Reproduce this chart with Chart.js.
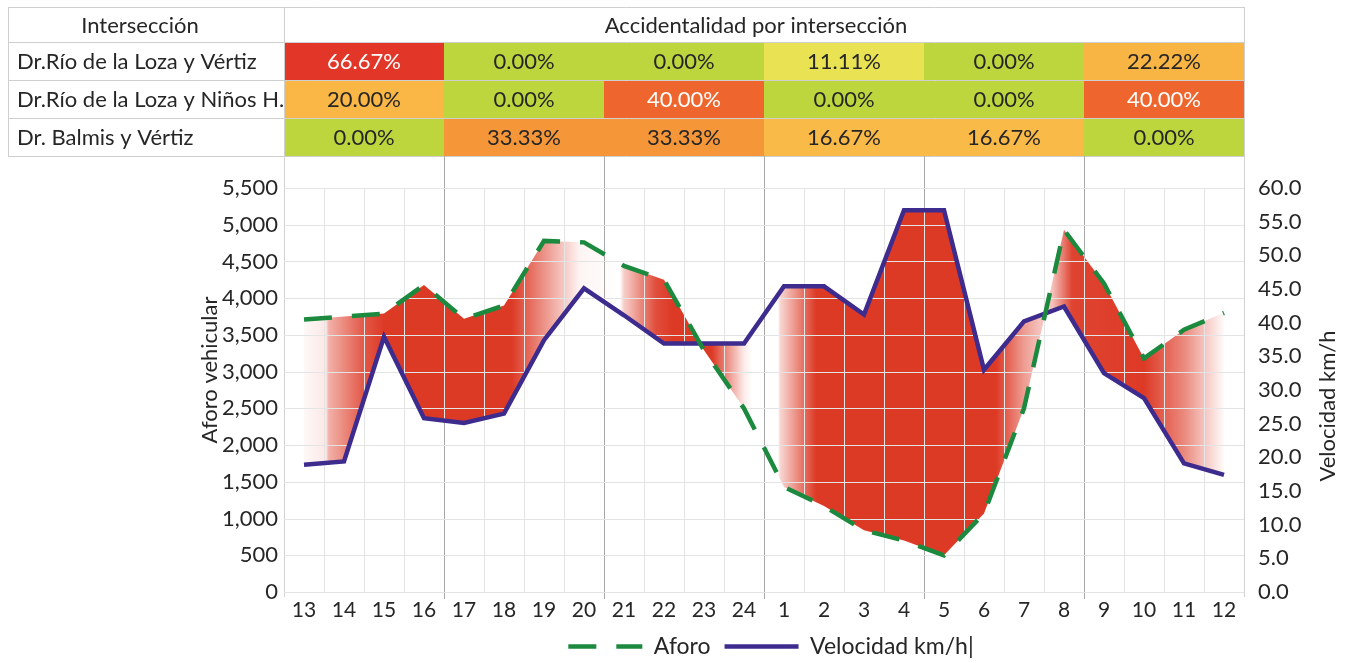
<!DOCTYPE html>
<html lang="es">
<head>
<meta charset="utf-8">
<title>Aforo vehicular y velocidad</title>
<script src="https://cdn.jsdelivr.net/npm/chart.js@4.4.1/dist/chart.umd.min.js"></script>
<style>
  html, body { margin: 0; padding: 0; background: #ffffff; }
  .chart-box { position: relative; width: 1347px; height: 663px; }
</style>
</head>
<body>
<div class="chart-box"><canvas id="js-chart-aforo"></canvas></div>
<script>
// Hours of the day (x axis)
const horas = ['13', '14', '15', '16', '17', '18', '19', '20', '21', '22', '23', '24',
               '1', '2', '3', '4', '5', '6', '7', '8', '9', '10', '11', '12'];

// Vehicle count per hour (left axis)
const aforo = [3710, 3750, 3790, 4180, 3720, 3900, 4780, 4760, 4440, 4250, 3290, 2500,
               1430, 1170, 840, 700, 500, 1070, 2500, 4930, 4200, 3180, 3570, 3800];

// Speed in km/h per hour (right axis)
const velocidad = [18.9, 19.4, 37.9, 25.8, 25.1, 26.5, 37.4, 45.1, 41.1, 36.9, 36.9, 36.9,
                   45.4, 45.4, 41.2, 56.7, 56.7, 33.0, 40.2, 42.4, 32.5, 28.8, 19.1, 17.4];

// Axis ranges
const aforoMax = 5500, aforoPaso = 500;
const velMax = 60, velPaso = 5;

// Accident table, one value per 4 hour block
const tablaCabecera = 'Intersección';
const tablaTitulo = 'Accidentalidad por intersección';
const intersecciones = ['Dr.Río de la Loza y Vértiz', 'Dr.Río de la Loza y Niños H.', 'Dr. Balmis y Vértiz'];
const accRioVertiz = [66.67, 0.00, 0.00, 11.11, 0.00, 22.22];
const accRioNinos = [20.00, 0.00, 40.00, 0.00, 0.00, 40.00];
const accBalmisVertiz = [0.00, 33.33, 33.33, 16.67, 16.67, 0.00];

// Styles
const FONT = "Lato, 'Open Sans', sans-serif";
const TEXT = '#262626';
const GREEN = '#1b8a3e';
const PURPLE = '#3d2b8e';
const RED = [221, 58, 38];
const GRID = '#e4e4e4';
const COLUMN_LINE = '#a8a8a8';
const AXIS_LINE = '#d2d2d2';

// fill opacity along x: [category position, opacity]
const fadeStops = [
  [0, 0.03], [0.55, 0.12], [0.62, 0.4], [1.5, 0.85], [2, 1],
  [5.2, 1], [6, 0.55], [6.9, 0.05], [7.9, 0], [8, 0.25], [8.8, 0.9], [9.2, 1],
  [10.2, 1], [11, 0.1], [11.2, 0], [11.85, 0], [11.9, 0.2], [12.8, 1],
  [17.3, 1], [18, 0.5], [18.4, 0.3], [18.7, 0.3], [19.2, 0.95], [21, 1],
  [22, 0.6], [22.5, 0.3], [23, 0.02]
];

// colour scale of the table cells
const scaleStops = [
  [0, [190, 214, 62]], [11.11, [233, 227, 84]], [15, [250, 188, 72]], [25, [249, 178, 66]],
  [33.33, [245, 150, 57]], [40, [238, 101, 46]], [66.67, [226, 55, 40]]
];

const table = { top: 7, left: 8, headH: 35, rowH: 38 };

function interp(stops, v) {
  if (v <= stops[0][0]) return stops[0][1];
  for (let i = 1; i < stops.length; i++) {
    const [p1, a1] = stops[i];
    if (v <= p1) {
      const [p0, a0] = stops[i - 1];
      const t = (v - p0) / (p1 - p0);
      if (Array.isArray(a0)) return a0.map((c, j) => Math.round(c + (a1[j] - c) * t));
      return a0 + (a1 - a0) * t;
    }
  }
  return stops[stops.length - 1][1];
}

function cellColor(v) {
  return `rgb(${interp(scaleStops, v).join(',')})`;
}

function fillGradient(chart) {
  const {ctx, chartArea: a, scales} = chart;
  if (!a || !scales.x) return `rgba(${RED.join(',')},0.8)`;
  const x = scales.x;
  const g = ctx.createLinearGradient(a.left, 0, a.right, 0);
  fadeStops.forEach(([pos, alpha]) => {
    const off = (x.getPixelForValue(pos) - a.left) / (a.right - a.left);
    g.addColorStop(Math.min(1, Math.max(0, off)), `rgba(${RED.join(',')},${alpha})`);
  });
  return g;
}

// Table on top and column lines running down to the axis
const tablePlugin = {
  id: 'tablaAccidentes',
  beforeDraw(chart) {
    const {ctx, chartArea: area, scales: {x}} = chart;
    const edge = k => Math.round(x.getPixelForValue(k - 0.5));
    const rows = [accRioVertiz, accRioNinos, accBalmisVertiz];
    const top = table.top, bodyTop = top + table.headH;
    const bottom = bodyTop + rows.length * table.rowH;
    const left = table.left, split = Math.round(area.left), right = Math.round(area.right);

    ctx.save();
    ctx.font = `22px ${FONT}`;
    ctx.textBaseline = 'middle';

    rows.forEach((vals, r) => {
      const y0 = bodyTop + r * table.rowH;
      vals.forEach((v, c) => {
        const x0 = edge(c * 4), x1 = edge(c * 4 + 4);
        ctx.fillStyle = cellColor(v);
        ctx.fillRect(x0, y0 + 1, x1 - x0, table.rowH - 1);
        ctx.fillStyle = v >= 40 ? '#ffffff' : TEXT;
        ctx.textAlign = 'center';
        ctx.fillText(v.toFixed(2) + '%', (x0 + x1) / 2, y0 + table.rowH / 2 + 1);
      });
      ctx.fillStyle = TEXT;
      ctx.textAlign = 'left';
      ctx.fillText(intersecciones[r], left + 9, y0 + table.rowH / 2 + 1);
    });

    ctx.fillStyle = TEXT;
    ctx.textAlign = 'center';
    ctx.fillText(tablaCabecera, (left + split) / 2 - 6, top + table.headH / 2 + 1);
    ctx.fillText(tablaTitulo, (split + right) / 2 - 8, top + table.headH / 2 + 1);

    // table borders
    ctx.lineWidth = 1;
    ctx.strokeStyle = '#cfcfcf';
    ctx.beginPath();
    for (let r = 0; r <= rows.length + 1; r++) {
      const y = r === 0 ? top : bodyTop + (r - 1) * table.rowH;
      ctx.moveTo(left, y + 0.5);
      ctx.lineTo(right + 1, y + 0.5);
    }
    ctx.moveTo(left + 0.5, top);
    ctx.lineTo(left + 0.5, bottom);
    ctx.moveTo(split + 0.5, top);
    ctx.lineTo(split + 0.5, bottom);
    ctx.moveTo(right + 0.5, top);
    ctx.lineTo(right + 0.5, bottom);
    ctx.stroke();

    // axis lines below the table
    ctx.strokeStyle = AXIS_LINE;
    ctx.beginPath();
    ctx.moveTo(split + 0.5, bottom);
    ctx.lineTo(split + 0.5, area.bottom + 5);
    ctx.moveTo(right + 0.5, bottom);
    ctx.lineTo(right + 0.5, area.bottom + 5);
    ctx.stroke();

    // block lines every 4 hours
    ctx.strokeStyle = COLUMN_LINE;
    ctx.beginPath();
    for (let k = 4; k < horas.length; k += 4) {
      const px = edge(k) + 0.5;
      ctx.moveTo(px, bottom);
      ctx.lineTo(px, area.bottom + 7);
    }
    ctx.stroke();
    ctx.restore();
  }
};

// Light grid drawn over the fill, under the lines
const gridPlugin = {
  id: 'gridOverFill',
  beforeDatasetsDraw(chart) {
    const {ctx, chartArea: a, scales: {x, y}} = chart;
    const edge = k => Math.round(x.getPixelForValue(k - 0.5)) + 0.5;
    ctx.save();
    ctx.lineWidth = 1;
    ctx.strokeStyle = GRID;
    ctx.beginPath();
    y.ticks.forEach((t, i) => {
      const py = Math.round(y.getPixelForTick(i)) + 0.5;
      ctx.moveTo(a.left, py);
      ctx.lineTo(a.right, py);
    });
    for (let k = 1; k < horas.length; k++) {
      if (k % 4 === 0) continue;
      ctx.moveTo(edge(k), a.top);
      ctx.lineTo(edge(k), a.bottom);
    }
    ctx.stroke();

    // block lines inside the red band show light as well
    const p0 = chart.getDatasetMeta(0).data;
    const p1 = chart.getDatasetMeta(1).data;
    ctx.beginPath();
    p0.forEach((p, i) => (i ? ctx.lineTo(p.x, p.y) : ctx.moveTo(p.x, p.y)));
    for (let i = p1.length - 1; i >= 0; i--) ctx.lineTo(p1[i].x, p1[i].y);
    ctx.closePath();
    ctx.clip();
    ctx.beginPath();
    for (let k = 4; k < horas.length; k += 4) {
      if (interp(fadeStops, k - 0.5) < 0.5) continue;
      ctx.moveTo(edge(k), a.top);
      ctx.lineTo(edge(k), a.bottom);
    }
    ctx.stroke();
    ctx.restore();
  }
};

// Axis titles, both reading bottom to top
const titlesPlugin = {
  id: 'axisTitles',
  afterDraw(chart) {
    const {ctx, chartArea: a} = chart;
    const mid = (a.top + a.bottom) / 2;
    ctx.save();
    ctx.font = `22px ${FONT}`;
    ctx.fillStyle = TEXT;
    ctx.textAlign = 'center';
    ctx.textBaseline = 'middle';
    [['Aforo vehicular', a.left - 74, mid - 20], ['Velocidad km/h', a.right + 84, mid + 16]].forEach(([txt, tx, ty]) => {
      ctx.save();
      ctx.translate(tx, ty);
      ctx.rotate(-Math.PI / 2);
      ctx.fillText(txt, 0, 0);
      ctx.restore();
    });
    ctx.restore();
  }
};

Chart.defaults.font.family = FONT;
Chart.defaults.font.size = 21;
Chart.defaults.color = TEXT;

new Chart(document.getElementById('js-chart-aforo'), {
  type: 'line',
  data: {
    labels: horas,
    datasets: [
      {
        label: 'Aforo',
        data: aforo,
        yAxisID: 'y',
        borderColor: GREEN,
        borderWidth: 4.5,
        borderDash: [28, 20],
        borderCapStyle: 'butt',
        borderJoinStyle: 'miter',
        pointRadius: 0,
        tension: 0,
        fill: '+1',
        backgroundColor: ctx => fillGradient(ctx.chart)
      },
      {
        label: 'Velocidad km/h|',
        data: velocidad,
        yAxisID: 'y1',
        borderColor: PURPLE,
        backgroundColor: PURPLE,
        borderWidth: 4.5,
        borderJoinStyle: 'miter',
        pointRadius: 0,
        tension: 0,
        fill: false
      }
    ]
  },
  options: {
    responsive: true,
    maintainAspectRatio: false,
    animation: false,
    layout: { padding: { left: 195, top: 188, right: 0, bottom: -5 } },
    plugins: {
      filler: { drawTime: 'beforeDatasetsDraw' },
      tooltip: { enabled: false },
      legend: {
        position: 'bottom',
        labels: {
          usePointStyle: true,
          pointStyle: 'line',
          pointStyleWidth: 74,
          padding: 14,
          color: TEXT,
          font: { size: 23 },
          // point styles carry no dash, take it from the dataset
          generateLabels: chart => Chart.defaults.plugins.legend.labels.generateLabels(chart).map((item, i) => {
            item.lineDash = chart.data.datasets[i].borderDash || [];
            item.lineCap = 'butt';
            return item;
          })
        }
      }
    },
    scales: {
      x: {
        offset: true,
        grid: { display: false, drawTicks: false },
        border: { display: false },
        ticks: { padding: 6, maxRotation: 0, autoSkip: false },
        afterFit: s => { s.height = 29; }
      },
      y: {
        position: 'left',
        min: 0,
        max: aforoMax,
        grid: { display: false, drawTicks: false },
        border: { display: false },
        ticks: { stepSize: aforoPaso, padding: 6, font: { size: 22 }, callback: v => v.toLocaleString('en-US') },
        afterFit: s => { s.width = 89; }
      },
      y1: {
        position: 'right',
        min: 0,
        max: velMax,
        grid: { display: false, drawTicks: false },
        border: { display: false },
        ticks: { stepSize: velPaso, padding: 14, font: { size: 22 }, callback: v => v.toFixed(1) },
        afterFit: s => { s.width = 103; }
      }
    }
  },
  plugins: [tablePlugin, gridPlugin, titlesPlugin]
});
</script>
</body>
</html>
